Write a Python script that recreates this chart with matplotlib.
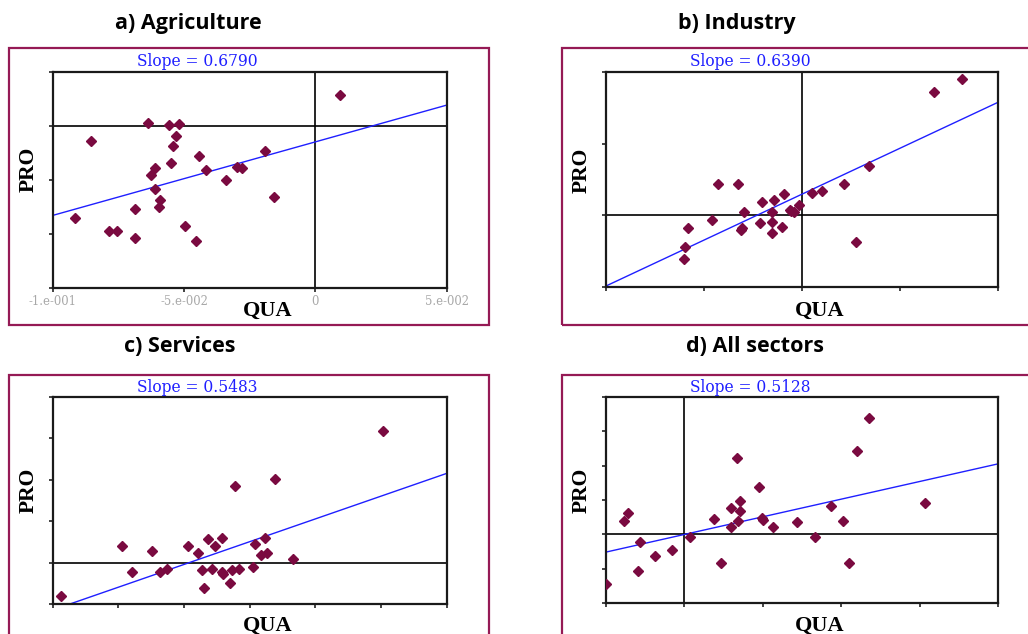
import matplotlib.pyplot as plt
from matplotlib.patches import Rectangle
import numpy as np

# -----------------------------
# Data
# -----------------------------
agr_qua = [0.0094, -0.0638, -0.0556, -0.0518, -0.0854, -0.0532, -0.0543, -0.0442, -0.0190,
           -0.0550, -0.0610, -0.0627, -0.0418, -0.0300, -0.0280, -0.0610, -0.0340, -0.0591,
           -0.0595, -0.0688, -0.0159, -0.0915, -0.0495, -0.0786, -0.0755, -0.0688, -0.0456]
agr_pro = [0.0285, 0.0029, 0.0005, 0.0017, -0.0140, -0.0094, -0.0189, -0.0282, -0.0232,
           -0.0343, -0.0389, -0.0454, -0.0408, -0.0380, -0.0392, -0.0580, -0.0500, -0.0688,
           -0.0752, -0.0771, -0.0660, -0.0848, -0.0925, -0.0971, -0.0971, -0.1035, -0.1066]

ind_qua = [0.0817, 0.0675, 0.0340, 0.0212, 0.0104, 0.0051, -0.0015, -0.0090, -0.0143, -0.0206,
           -0.0428, -0.0326, -0.0296, -0.0063, -0.0041, -0.0054, -0.0155, -0.0459, -0.0583,
           -0.0216, -0.0155, -0.0304, -0.0313, -0.0102, -0.0155, -0.0596, -0.0603, 0.0275]
ind_pro = [0.0948, 0.0856, 0.0345, 0.0216, 0.0167, 0.0155, 0.0074, 0.0146, 0.0109, 0.0095,
           0.0216, 0.0216, 0.0026, 0.0037, 0.0026, 0.0028, 0.0021, -0.0032, -0.0090,
           -0.0056, -0.0044, -0.0090, -0.0102, -0.0079, -0.0125, -0.0223, -0.0304, -0.0185]

ser_qua = [0.1518, 0.0690, 0.0386, -0.0470, -0.0241, 0.0033, 0.0109, 0.0185, 0.0236, 0.0292,
           0.0538, 0.0617, 0.0584, 0.0635, 0.0827, -0.0398, -0.0183, -0.0127, 0.0135, 0.0216,
           0.0287, 0.0299, 0.0368, 0.0419, 0.0523, 0.0152, 0.0348, -0.0934]
ser_pro = [0.1585, 0.1003, 0.0923, 0.0201, 0.0140, 0.0201, 0.0120, 0.0281, 0.0201, 0.0301,
           0.0221, 0.0301, 0.0088, 0.0120, 0.0048, -0.0112, -0.0112, -0.0072, -0.0092, -0.0072,
           -0.0112, -0.0140, -0.0092, -0.0072, -0.0052, -0.0309, -0.0241, -0.0405]

all_qua = [0.1179, 0.1098, 0.0332, 0.0474, 0.0357, 0.0294, 0.0357, 0.0191, 0.0343, 0.0294,
           0.0491, 0.0500, 0.0562, 0.0717, 0.0934, 0.1011, 0.1536, 0.0832, 0.0038, 0.0232,
           0.1049, -0.0360, -0.0387, -0.0283, -0.0189, -0.0077, -0.0296, -0.0498]
all_pro = [0.1684, 0.1209, 0.1117, 0.0694, 0.0485, 0.0388, 0.0340, 0.0223, 0.0194, 0.0102,
           0.0233, 0.0214, 0.0102, 0.0175, 0.0408, 0.0194, 0.0456, -0.0039, -0.0039, -0.0417,
           -0.0417, 0.0316, 0.0194, -0.0112, -0.0320, -0.0233, -0.0529, -0.0718]

titles = ['a) Agriculture', 'b) Industry', 'c) Services', 'd) All sectors']
slopes = [0.6790, 0.6390, 0.5483, 0.5128]
intercepts = [-0.0148, 0.0148, -0.0020, 0.0]
agr_xticklabels = ['-1.e-001', '-5.e-002', '0', '5.e-002']

# -----------------------------
# Layout (pixels of a 1028x634 picture)
# -----------------------------
W, H = 1028, 634
fig = plt.figure(figsize=(W / 100, H / 100), dpi=100)


def fx(px):
    return px / W


def fy(py):
    return 1 - py / H


panels = [
    # data, axes box (l, t, r, b), limits, ticks, zero line, frame (l, t, r, b), text positions
    dict(x=agr_qua, y=agr_pro, box=(52.7, 71.7, 446.7, 288.3), xlim=(-0.1, 0.05), ylim=(-0.15, 0.05),
         xt=[-0.1, -0.05, 0, 0.05], yt=[-0.15, -0.1, -0.05, 0, 0.05], vline=True,
         frame=(8.5, 48, 488.5, 325), slope_xy=(197.5, 61.7), pro_xy=(28.3, 169), qua_xy=(267.5, 311)),
    dict(x=ind_qua, y=ind_pro, box=(606, 71.7, 998, 287.3), xlim=(-0.1, 0.1), ylim=(-0.05, 0.1),
         xt=[-0.1, -0.05, 0, 0.05, 0.1], yt=[-0.05, 0, 0.05, 0.1], vline=True,
         frame=(562, 48, 1040, 325), slope_xy=(750, 61.7), pro_xy=(581.7, 170), qua_xy=(820, 311)),
    dict(x=ser_qua, y=ser_pro, box=(52.7, 396.7, 446.7, 604.3), xlim=(-0.1, 0.2), ylim=(-0.05, 0.2),
         xt=[-0.1, -0.05, 0, 0.05, 0.1, 0.15, 0.2], yt=[-0.05, 0, 0.05, 0.1, 0.15, 0.2], vline=False,
         frame=(8.5, 374.5, 488.5, 650), slope_xy=(197.5, 388), pro_xy=(28.3, 490), qua_xy=(267.5, 626)),
    dict(x=all_qua, y=all_pro, box=(606, 396.7, 998.3, 603.3), xlim=(-0.05, 0.2), ylim=(-0.1, 0.2),
         xt=[-0.05, 0, 0.05, 0.1, 0.15, 0.2], yt=[-0.1, -0.05, 0, 0.05, 0.1, 0.15, 0.2], vline=True,
         frame=(562, 374.5, 1040, 650), slope_xy=(750, 388), pro_xy=(581.7, 490), qua_xy=(820, 626)),
]
title_pos = [(188, 23), (737, 23), (180, 347), (755, 347)]

frame_color = '#951a55'
point_color = '#7a0a40'

for i, p in enumerate(panels):
    fl, ft, fr, fb = p['frame']
    fig.patches.append(Rectangle((fx(fl), fy(fb)), fx(fr - fl), (fb - ft) / H,
                                 transform=fig.transFigure, fill=False,
                                 edgecolor=frame_color, linewidth=1.6, zorder=0))

    l, t, r, b = p['box']
    ax = fig.add_axes([fx(l), fy(b), fx(r - l), (b - t) / H])
    ax.set_xlim(p['xlim'])
    ax.set_ylim(p['ylim'])
    ax.set_xticks(p['xt'])
    ax.set_yticks(p['yt'])
    ax.set_yticklabels([])
    if i == 0:
        ax.set_xticklabels(agr_xticklabels, fontfamily='DejaVu Serif', fontsize=8.4,
                           color='#a8a8a8')
    else:
        ax.set_xticklabels([])
    ax.tick_params(direction='out', length=3, width=1.2, color='#222222', pad=1.5)
    for s in ax.spines.values():
        s.set_linewidth(1.6)
        s.set_color('#1a1a1a')

    ax.axhline(0, color='black', linewidth=1.2, zorder=1)
    if p['vline']:
        ax.axvline(0, color='black', linewidth=1.2, zorder=1)

    xs = np.array(p['xlim'])
    ax.plot(xs, intercepts[i] + slopes[i] * xs, color='#1f1fff', linewidth=1.0, zorder=2)
    ax.plot(p['x'], p['y'], linestyle='none', marker='D', markersize=5.0,
            color=point_color, zorder=3)

    sx, sy = p['slope_xy']
    fig.text(fx(sx), fy(sy), 'Slope = %.4f' % slopes[i], ha='center', va='center',
             fontfamily='DejaVu Serif', fontsize=11.2, color='#1f1fff')
    px_, py_ = p['pro_xy']
    fig.text(fx(px_), fy(py_), 'PRO', rotation=90, ha='center', va='center',
             fontfamily='Liberation Serif', fontweight='bold', fontsize=15.5)
    qx, qy = p['qua_xy']
    fig.text(fx(qx), fy(qy), 'QUA', ha='center', va='center',
             fontfamily='Liberation Serif', fontweight='bold', fontsize=16)

    tx, ty = title_pos[i]
    fig.text(fx(tx), fy(ty), titles[i], ha='center', va='center',
             fontfamily='Open Sans', fontweight='bold', fontsize=15.5)

fig.savefig('out.png', dpi=100)
